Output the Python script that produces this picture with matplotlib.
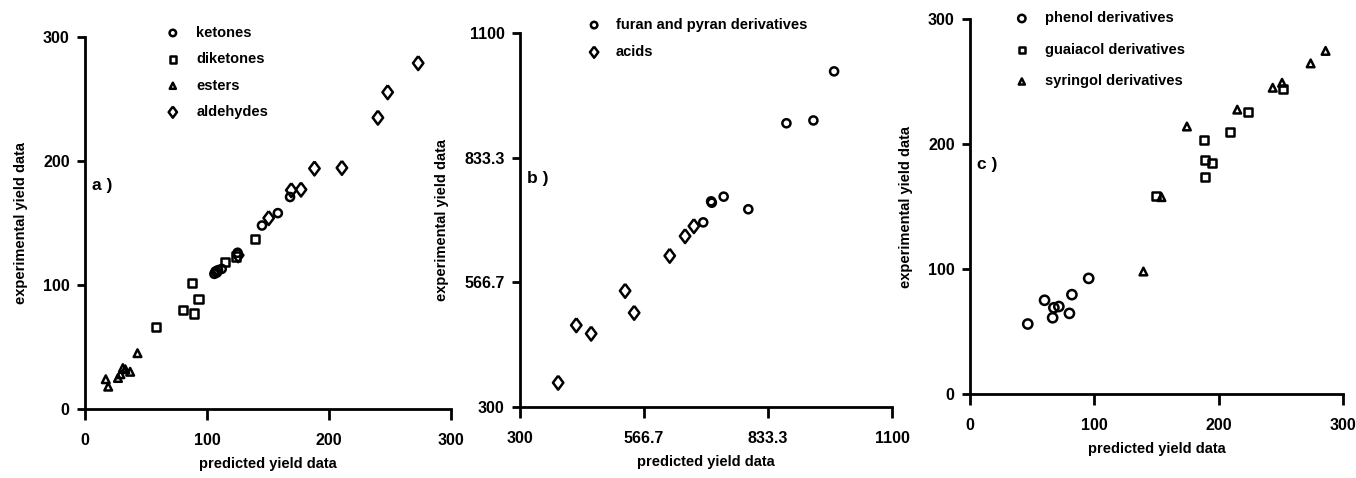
import numpy as np
import matplotlib.pyplot as plt

plt.rcParams['font.family'] = ['Liberation Sans Narrow', 'Liberation Sans', 'DejaVu Sans']
plt.rcParams['font.weight'] = 'bold'

# panel a
ket_x = [106, 107, 108, 109, 112, 125, 145, 158, 168]
ket_y = [109, 111, 110, 112, 113, 126, 148, 158, 171]
dik_x = [58.5, 80, 87.5, 89, 93, 114.5, 123.5, 139]
dik_y = [66, 80, 101.5, 77, 88.5, 118.5, 123, 137]
est_x = [17, 19, 27, 29, 31, 33, 37, 43]
est_y = [24, 18, 25, 28, 33, 32, 30, 45]
ald_x = [125.5, 150.5, 169, 177, 188, 210.5, 240, 248, 273]
ald_y = [124, 154, 176.5, 177, 194, 194.5, 235, 255.5, 279]

# panel b
fur_x = [694, 711, 712.5, 738, 791, 873, 931, 975.5]
fur_y = [695, 740, 737, 750, 723, 907, 913, 1018]
acd_x = [382, 421, 453, 526, 545.5, 622, 655, 674]
acd_y = [352, 475, 457, 548.5, 501.5, 623.5, 665.5, 687]

# panel c
phe_x = [46.5, 60, 66.5, 67.5, 71.5, 80, 82, 95.5]
phe_y = [56, 75, 61, 69, 70, 64.5, 79.5, 92.5]
gua_x = [149.5, 188.5, 189, 189, 195, 209.5, 223.5, 251.5]
gua_y = [158.5, 203.5, 187.5, 173.5, 184.5, 209.5, 225.5, 244]
syr_x = [139.5, 154, 174.5, 215, 243.5, 251, 274, 286]
syr_y = [98, 157.5, 214, 227.5, 245, 249, 264.5, 274.5]

# slightly wide diamond like the original
diamond = [(0, 1), (0.75, 0), (0, -1), (-0.75, 0), (0, 1)]

fig = plt.figure(figsize=(13.56, 4.78), dpi=100)
axa = fig.add_axes([0.0627, 0.1444, 0.270, 0.778])
axb = fig.add_axes([0.3835, 0.1485, 0.2743, 0.7824])
axc = fig.add_axes([0.7153, 0.1757, 0.2751, 0.7845])

def style(ax, lim, ticks, ticklabels):
    ax.set_xlim(lim)
    ax.set_ylim(lim)
    ax.set_xticks(ticks)
    ax.set_yticks(ticks)
    ax.set_xticklabels(ticklabels, fontsize=11.5, fontweight='bold')
    ax.set_yticklabels(ticklabels, fontsize=11.5, fontweight='bold')
    for s in ['top', 'right']:
        ax.spines[s].set_visible(False)
    for s in ['left', 'bottom']:
        ax.spines[s].set_linewidth(2)
    ax.tick_params(axis='x', length=8, width=2, pad=9, direction='out')
    ax.tick_params(axis='y', length=6, width=2, pad=5, direction='out')
    ax.set_xlabel('predicted yield data', fontsize=10.5, fontweight='bold', labelpad=7)
    ax.set_ylabel('experimental yield data', fontsize=10.5, fontweight='bold', labelpad=11)

kw = dict(facecolor='none', edgecolor='black', linewidths=1.8)

axa.scatter(ket_x, ket_y, marker='o', s=34, label='ketones', **kw)
axa.scatter(dik_x, dik_y, marker='s', s=34, label='diketones', **kw)
axa.scatter(est_x, est_y, marker='^', s=30, label='esters', **kw)
axa.scatter(ald_x, ald_y, marker=diamond, s=100, label='aldehydes', **kw)
style(axa, (0, 300), [0, 100, 200, 300], ['0', '100', '200', '300'])
axa.legend(loc='upper left', bbox_to_anchor=(0.2, 1.05), frameon=False, fontsize=10.5,
           handlelength=1, handletextpad=1.1, labelspacing=0.85, borderpad=0, markerscale=0.8)
axa.text(0.02, 0.59, 'a )', transform=axa.transAxes, fontsize=12.5, fontweight='bold')

axb.scatter(fur_x, fur_y, marker='o', s=34, label='furan and pyran derivatives', **kw)
axb.scatter(acd_x, acd_y, marker=diamond, s=100, label='acids', **kw)
bt = [300, 566.7, 833.3, 1100]
style(axb, (300, 1100), bt, ['300', '566.7', '833.3', '1100'])
axb.legend(loc='upper left', bbox_to_anchor=(0.16, 1.06), frameon=False, fontsize=10.5,
           handlelength=1, handletextpad=1.0, labelspacing=0.9, borderpad=0, markerscale=0.8)
axb.text(0.02, 0.6, 'b )', transform=axb.transAxes, fontsize=12.5, fontweight='bold')

axc.scatter(phe_x, phe_y, marker='o', s=44, label='phenol derivatives', **kw)
axc.scatter(gua_x, gua_y, marker='s', s=34, label='guaiacol derivatives', **kw)
axc.scatter(syr_x, syr_y, marker='^', s=30, label='syringol derivatives', **kw)
style(axc, (0, 300), [0, 100, 200, 300], ['0', '100', '200', '300'])
axc.legend(loc='upper left', bbox_to_anchor=(0.1, 1.04), frameon=False, fontsize=10.5,
           handlelength=1, handletextpad=1.1, labelspacing=1.2, borderpad=0, markerscale=0.8)
axc.text(0.02, 0.6, 'c )', transform=axc.transAxes, fontsize=12.5, fontweight='bold')

fig.savefig('out.png', dpi=100)
